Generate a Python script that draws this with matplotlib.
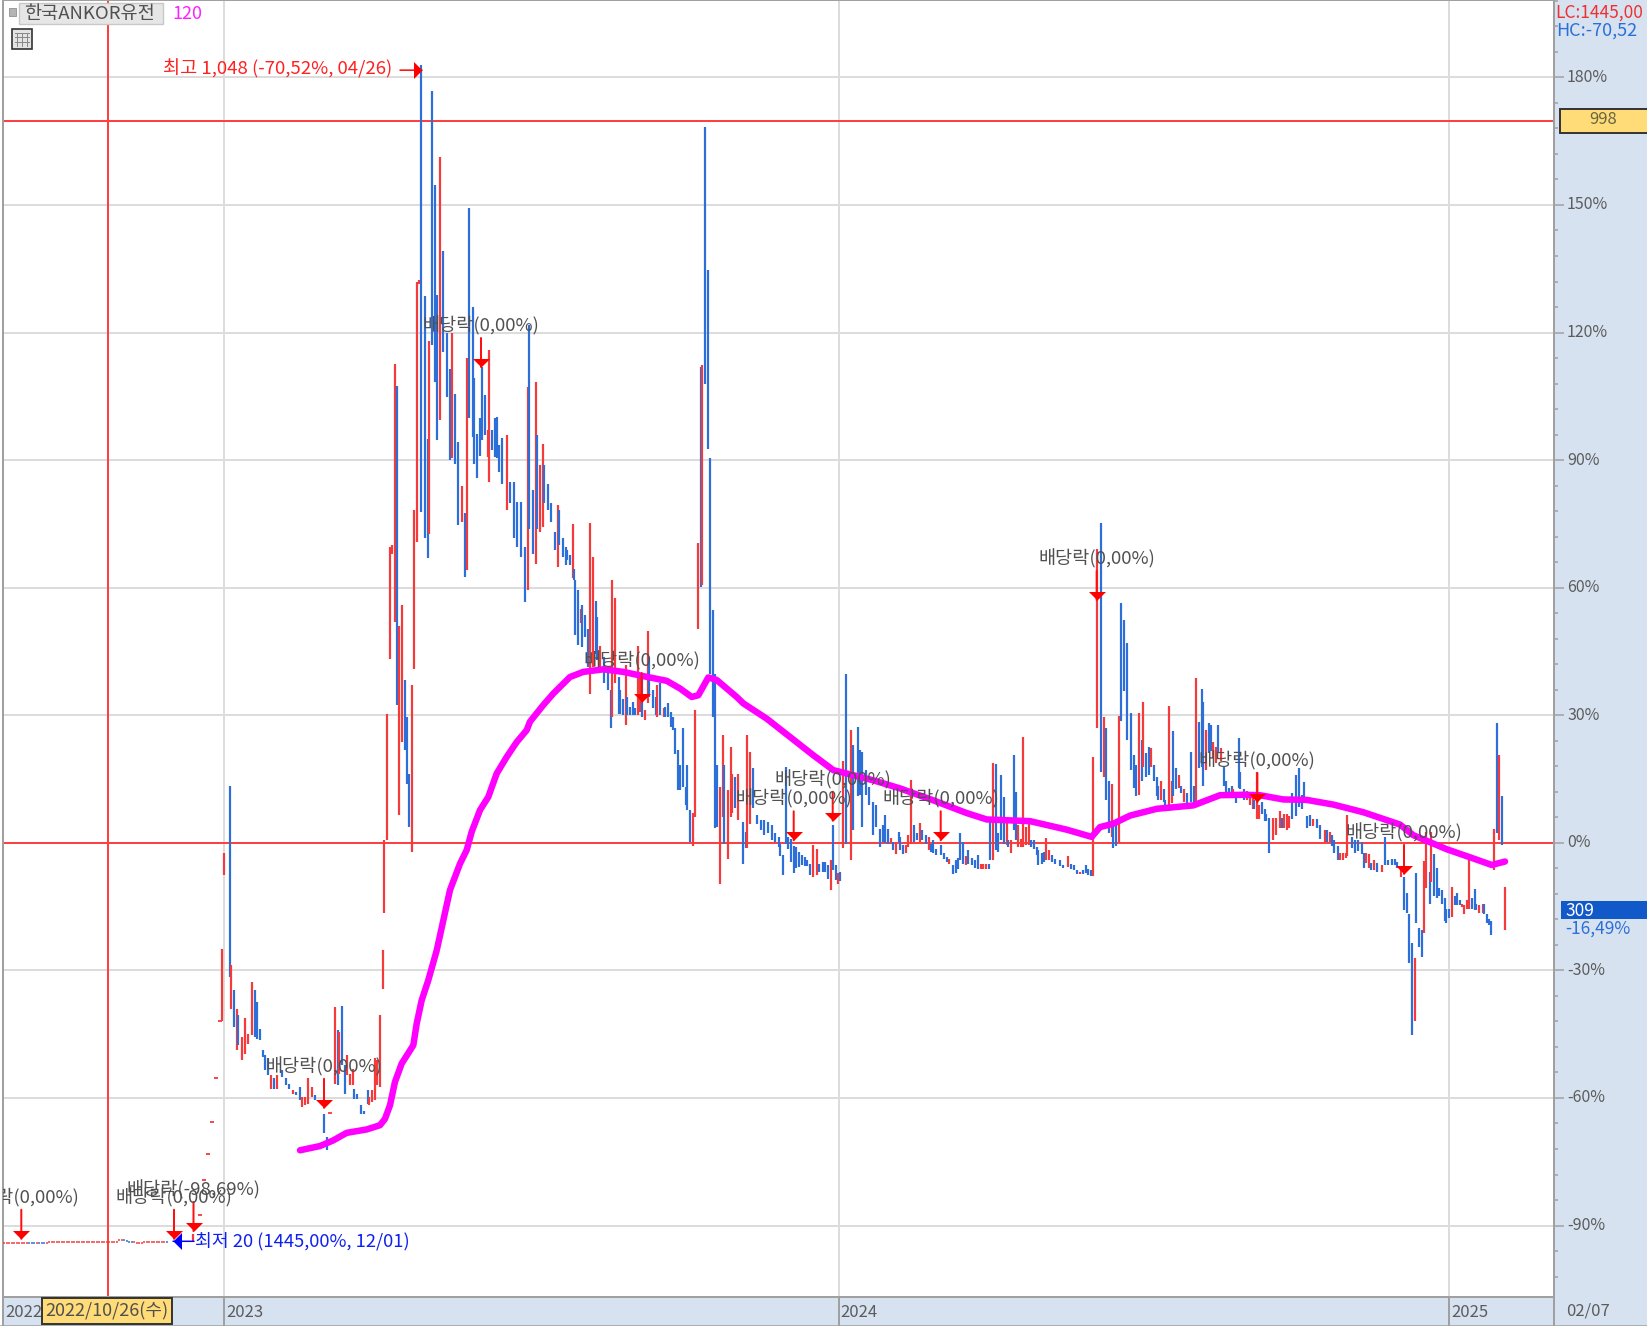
from matplotlib import pyplot as plt
from matplotlib.lines import Line2D
from matplotlib.patches import Rectangle
from matplotlib.ticker import FuncFormatter, MultipleLocator
from matplotlib.transforms import ScaledTranslation

plt.rcParams['font.family'] = ['Noto Sans CJK KR', 'DejaVu Sans']

RED = '#f43a3a'
BLUE = '#2c6fd8'
GRID = '#dcdcdc'
PANEL = '#d6e2f0'
EDGE = '#a0a0a0'
TXT = '#5c5c5c'

# Chart position of the date axis and price change in %
year_pos = [3, 224, 838.7, 1449, 1554]
year_labels = ['2022', '2023', '2024', '2025', '']
last_close = 169.7  # crosshair level, 998
cross_pos = 108

# (position, high %, low %, colour)
bars_early_2023 = [
    (193.3, -92, -93.9, 'r'), (222.3, -24.9, -42, 'r'), (223.7, -2.4, -7.5, 'r'), (230, 13.3, -31.5, 'b'),
    (231.3, -28.8, -39, 'r'), (234, -34.5, -43.3, 'b'), (237, -39, -48.8, 'r'), (238.3, -40.5, -47.6, 'b'),
    (241.7, -45.7, -51.1, 'r'), (245, -41.3, -49.6, 'r'), (248.3, -44.9, -47.2, 'r'), (252.3, -32.7, -45.3, 'r'),
    (255, -34.7, -45.7, 'b'), (256.7, -37.4, -46.1, 'b'), (260, -43.7, -46.3, 'b'), (262.7, -48.8, -50.3, 'b'),
    (265, -50, -53.5, 'b'), (267.7, -50.7, -54.7, 'b'), (270.7, -54.7, -57.8, 'r'), (274, -55.4, -57.8, 'b'),
    (277.3, -54.7, -58, 'r'), (281.7, -53.5, -55.1, 'b'), (285.7, -55.4, -57, 'b'), (289, -56.6, -57.8, 'b'),
    (293.3, -58.2, -59, 'r'), (296, -58.6, -59.4, 'b'), (300, -57.4, -60.5, 'b'), (302, -59.8, -62.1, 'r'),
    (305, -59.8, -61.7, 'r'), (308.3, -55.4, -61.3, 'r'), (311.7, -57.4, -59.8, 'r'), (315, -59.4, -60.5, 'b'),
    (324, -63.7, -68.2, 'b'), (327.3, -69.2, -72.3, 'b'), (334.7, -38.7, -56.6, 'r'), (338, -44.1, -57, 'b'),
    (339.3, -44.5, -54.3, 'r'), (342, -38.4, -52.3, 'b'), (345.3, -52.3, -59, 'b'), (346.7, -50, -54.7, 'r'),
    (350, -54.3, -57, 'r'), (352.7, -53.1, -57, 'r'), (354, -57.8, -60.2, 'b'), (357.3, -59, -60.2, 'b'),
    (360.7, -61.7, -63.7, 'b'), (364, -63, -63.7, 'b'), (368, -58.2, -61.5, 'b'), (368.7, -59.8, -61.7, 'r'),
    (371.7, -58.2, -60.9, 'r'), (375, -50.7, -60.5, 'r'), (376.7, -51.1, -57, 'r'), (379.7, -40.5, -57.4, 'r'),
    (382.7, -25.3, -34.3, 'r'),
]
bars_spike_2023 = [
    (384, 0.6, -16.4, 'r'), (387.3, 30.4, 0.6, 'r'), (390, 69.6, 43.3, 'r'), (391.7, 70, 68, 'r'),
    (394.7, 112.7, 52, 'r'), (397.3, 107.4, 32.4, 'b'), (398.7, 51, 6.5, 'r'), (402, 55.9, 23.7, 'r'),
    (405, 38.3, 21.8, 'b'), (406.7, 29.6, 13.9, 'b'), (409.3, 16.3, 3.8, 'b'), (412.3, 37, -2.1, 'r'),
    (414, 78.2, 40.8, 'r'), (416.7, 131.9, 70.8, 'r'), (419.3, 132.4, 131.5, 'r'), (421, 182.9, 77.8, 'b'),
    (424.7, 128.5, 71.6, 'b'), (427.7, 95, 66.9, 'b'), (429, 118, 72.7, 'r'), (432, 176.8, 117, 'b'),
    (434.7, 154.6, 108.4, 'b'), (436.7, 128.8, 94.7, 'b'), (439.7, 161.3, 99.4, 'r'), (442.7, 139.1, 115.4, 'b'),
    (447, 119.8, 104.9, 'b'), (450, 111.5, 90, 'b'), (451.7, 119.8, 90.4, 'r'), (454.7, 105.6, 89.2, 'b'),
    (457.7, 94.3, 74.7, 'b'), (462.3, 84, 75.5, 'r'), (465, 77.5, 62.6, 'b'), (466.7, 113.9, 64.1, 'r'),
    (469.3, 149.4, 99.8, 'b'), (472.7, 126, 95.5, 'b'), (474, 109.2, 89.2, 'b'), (476.7, 96.2, 85.7, 'b'),
    (480.3, 100, 91, 'b'), (481.7, 111.9, 94.7, 'b'), (485, 105.3, 95.8, 'b'), (487.7, 97, 90.8, 'r'),
    (489, 115.8, 84.9, 'r'), (492, 97, 92.3, 'b'), (495, 99.8, 90.8, 'b'), (496.7, 100.2, 90.4, 'b'),
    (499.3, 93.5, 87.3, 'b'), (502.3, 95.1, 84.5, 'b'), (506.7, 95.9, 78.2, 'r'), (510, 84.9, 79.8, 'b'),
    (513.7, 84.9, 71.6, 'b'), (517.3, 80.2, 69.6, 'b'), (520.7, 80.2, 67.3, 'b'), (525, 69.6, 56.7, 'b'),
    (528.3, 107.2, 59.4, 'r'), (529.3, 121.7, 73.9, 'b'), (532.7, 82.9, 68, 'b'), (535.7, 108.4, 65.5, 'r'),
    (537.3, 95.9, 73.9, 'b'), (540, 88.8, 73.1, 'r'), (542.7, 93.9, 74.3, 'r'), (544.3, 88.8, 79.8, 'b'),
    (547.7, 84.5, 78.2, 'b'), (551, 79.8, 75.5, 'b'), (555, 73.1, 68.8, 'b'), (558.3, 79.4, 64.9, 'r'),
    (559.3, 78.2, 70, 'b'), (562.7, 71.6, 67.3, 'b'), (565.7, 69.6, 65.3, 'b'), (567.3, 68.8, 66.5, 'b'),
    (570, 67.7, 65.3, 'b'), (573, 74.9, 62.2, 'r'), (574, 64.5, 61.8, 'b'), (575, 61.8, 48.8, 'b'),
    (578, 59.4, 46.5, 'b'), (580.7, 55.1, 51.6, 'r'), (582, 55.9, 46.1, 'b'), (585, 53.5, 48.4, 'b'),
    (588.3, 50.4, 41.4, 'b'), (589.7, 75.3, 35.1, 'r'), (592.7, 67.1, 41.4, 'r'), (595.7, 56.8, 44.5, 'b'),
    (597.3, 53.2, 43, 'b'), (600, 46.2, 40.6, 'r'), (604.3, 43.7, 37.5, 'b'), (608, 40.6, 35.9, 'b'),
    (610.7, 35.9, 27.1, 'b'), (612.3, 61.8, 29.6, 'r'), (615, 57.6, 37.5, 'r'), (618.7, 39, 30.4, 'b'),
    (620, 35.9, 30.4, 'b'), (622.7, 33.9, 30, 'b'), (626, 41.8, 27.7, 'r'), (627.3, 34.3, 30, 'b'),
    (630, 32, 30, 'b'), (633.3, 33.2, 30, 'b'), (635, 31.6, 30, 'b'), (637.7, 46.2, 30, 'r'),
    (640, 39.8, 30.8, 'r'), (642.3, 39.8, 29.6, 'b'), (645.3, 31.2, 28.8, 'r'), (648, 49.9, 32.8, 'r'),
    (649.3, 43.7, 34.3, 'b'), (652.7, 35.9, 31.6, 'b'), (655.7, 34.3, 30, 'b'), (657, 37, 29.6, 'r'),
    (660.3, 37.5, 30, 'b'), (663.7, 31.6, 29.6, 'r'), (665, 32, 29.6, 'b'), (667.7, 32.8, 29.6, 'b'),
    (671, 30.8, 27.3, 'b'), (672.7, 29.6, 26.5, 'b'), (675, 26.9, 21, 'b'), (678, 21.8, 12.4, 'b'),
    (679.7, 18.3, 12.4, 'b'), (682.7, 26.9, 13.2, 'b'), (685.7, 13.2, 8.9, 'b'), (687, 18.3, 7.7, 'b'),
    (690.3, 7.8, 0.2, 'b'), (693, 6.9, -0.8, 'r'), (694.7, 31.2, 6.1, 'r'), (697.7, 70.4, 50.4, 'r'),
    (700.7, 111.9, 60.2, 'b'), (702, 112.3, 60.6, 'r'), (705, 168.4, 108, 'b'), (708, 134.8, 92.7, 'b'),
    (709.7, 90.4, 39.8, 'b'), (712.7, 54.7, 29.6, 'b'), (715, 39.8, 3.4, 'b'), (717, 18.3, 3.8, 'b'),
    (720, 13.2, -9.6, 'r'), (723.3, 25.3, 6.1, 'r'), (724.3, 18.3, -0.2, 'b'), (727.7, 12.4, -3.9, 'r'),
    (730.7, 22.6, 6.1, 'r'), (732, 16.3, 6.9, 'r'), (735, 15.5, 8.1, 'b'), (738.3, 16.3, 5.3, 'r'),
    (742.7, 4.9, -4.9, 'b'), (746, 2.6, -1.3, 'b'), (747, 25.3, -1.3, 'r'), (750, 21.4, 4.5, 'r'),
    (752.7, 17.5, 8.1, 'b'), (756.7, 6.5, 4.5, 'b'), (760.7, 5.3, 3, 'b'), (764.3, 5.3, 1.8, 'b'),
    (767.7, 4.9, 2.2, 'b'),
]
bars_2024 = [
    (772.3, 4.1, 0.6, 'b'), (775.3, 2.2, 0.2, 'b'), (779, 1.4, -1, 'b'), (780.3, -0.2, -3, 'b'),
    (783.3, -2.9, -7.6, 'b'), (786.3, 17.9, -0.2, 'b'), (788.3, 1.4, -1.4, 'b'), (791, 1, -4.5, 'b'),
    (794.3, -0.8, -7.2, 'b'), (796, -1, -6, 'b'), (799.3, -2.1, -5.7, 'b'), (802, -2.9, -5.3, 'b'),
    (805.3, -3.3, -5.5, 'b'), (807.3, -4.1, -5.5, 'b'), (810, -4.9, -7.6, 'b'), (813, -0.6, -8, 'r'),
    (817, -1.4, -7.6, 'r'), (819.3, -4.9, -6.9, 'b'), (822.7, -4.5, -6.9, 'b'), (825, -4.5, -6.9, 'b'),
    (827.7, -5.3, -8.4, 'b'), (831, -4.1, -11.2, 'r'), (832.7, 4.1, -6.4, 'b'), (835.7, -5.3, -8.8, 'b'),
    (838.3, -7.2, -9.6, 'r'), (840.3, -6.8, -9, 'b'), (843.3, 19.3, -1.1, 'r'), (845.7, 39.6, -0.2, 'b'),
    (850.7, 26.6, -4, 'r'), (853.3, 22.9, 3.1, 'b'), (858, 27.3, 10.9, 'b'), (860.3, 21.8, 11.2, 'b'),
    (862.3, 21.4, 3.7, 'b'), (865.7, 17.1, 11.2, 'b'), (869, 13.2, 8.8, 'b'), (873.3, 9.6, 1.8, 'b'),
    (876.3, 8.8, 3.7, 'b'), (880.3, 3.3, -1, 'b'), (882.7, 4.1, 0.2, 'b'), (885.3, 6.5, 0, 'b'),
    (888.3, 3.3, -0.2, 'b'), (891, 1.2, -0.2, 'r'), (892.7, 0.2, -1.7, 'b'), (895.7, -0.2, -2.7, 'r'),
    (898.7, 2.6, 0.2, 'b'), (900, 1.4, -1.7, 'b'), (902.7, -0.6, -2.7, 'b'), (905.7, -0.6, -2.5, 'r'),
    (907.7, 1.8, -1, 'r'), (910.7, 14.7, -0.3, 'r'), (913.7, 4.1, 0.2, 'b'), (916.7, 2.2, 0.6, 'b'),
    (920.3, 4.7, 0.2, 'r'), (922.3, 3, 0.6, 'b'), (925.7, 1.8, -0.2, 'b'), (929, 1.4, -1.7, 'r'),
    (931, -0.2, -2.1, 'b'), (933.3, 0.6, -2.5, 'b'), (936.3, -1.4, -2.9, 'b'), (940.7, -0.6, -2.9, 'b'),
    (944, -2.5, -3.7, 'b'), (946.7, -3.3, -4.5, 'b'), (949.3, -3.7, -4.9, 'r'), (952.7, -5.3, -7.4, 'b'),
    (955.7, -4.1, -7.2, 'b'), (958.3, -3.5, -6.1, 'b'), (960, 2.2, -4.1, 'b'), (963, 0.2, -4.9, 'b'),
    (966.3, -3.2, -5.1, 'r'), (968.3, -1.7, -4.9, 'b'), (971.7, -3.5, -5.3, 'b'), (975, -4.1, -5.8, 'b'),
    (978, -2.8, -6.1, 'b'), (981, -4.9, -6.1, 'r'), (983.3, -4.9, -6.1, 'r'), (986, -4.9, -6.1, 'r'),
    (988.7, -4.9, -6.1, 'b'), (990.3, 6.1, -4.1, 'b'), (993.3, 18.8, -4.1, 'r'), (996, 18.5, -1.7, 'b'),
    (998, 2.2, -2.1, 'b'), (1000.7, 16, 0.6, 'b'), (1004, 10.8, -0.2, 'b'), (1006.7, 6.1, -0.6, 'r'),
    (1008.3, 0.6, -1, 'b'), (1011, 0.6, -2.5, 'r'), (1013.7, 20.6, 3, 'b'), (1015.7, 12, 0.6, 'b'),
    (1018.3, 4.1, -1, 'r'), (1021, 1, -1, 'r'), (1023, 24.9, -1, 'r'), (1025.7, 3.7, -0.6, 'r'),
    (1029, 4.5, -0.6, 'r'), (1030.7, 0.6, -1, 'b'), (1034, 0.6, -1.4, 'b'), (1036.7, -1, -2.9, 'b'),
    (1038.3, -1.7, -5.1, 'b'), (1041.7, -2.5, -4.9, 'b'), (1044.3, -2.1, -4.5, 'b'), (1045.7, 1.2, -4.1, 'r'),
    (1048.7, -1.7, -4.1, 'r'), (1051.7, -2.9, -4.5, 'b'), (1055.3, -3.7, -4.9, 'b'), (1060, -4.1, -5.5, 'b'),
    (1063.3, -5.3, -5.8, 'b'), (1068, -3.1, -5.7, 'r'), (1070.7, -4.9, -6.1, 'b'), (1074, -5.3, -6.4, 'b'),
    (1077.3, -6.4, -7.4, 'b'), (1080, -6.8, -7.4, 'r'), (1083.3, -6.4, -7.4, 'b'), (1086, -5.3, -7.2, 'b'),
    (1088.3, -6.1, -7.6, 'b'), (1090.7, -6.4, -7.9, 'b'), (1093.3, 20.2, -7.8, 'r'),
]
bars_late_2024 = [
    (1097, 69, 27, 'r'), (1101, 75.3, 16.7, 'b'), (1104, 29.5, 15.4, 'r'), (1106, 27, 10, 'b'),
    (1108.7, 14.6, 2.2, 'b'), (1112, 13.8, 1.4, 'r'), (1113.3, 4.3, -1.1, 'b'), (1116, 4.3, -0.7, 'b'),
    (1119, 29.9, 0.2, 'r'), (1120.7, 56.3, 28.7, 'b'), (1123.7, 52.4, 35.7, 'b'), (1126.7, 47.1, 24.1, 'b'),
    (1131, 30.5, 17.1, 'b'), (1134.3, 20.6, 13, 'b'), (1136, 18.3, 10.9, 'b'), (1139, 30.5, 11.3, 'r'),
    (1142, 24.1, 14.6, 'b'), (1143.3, 33.2, 17.9, 'r'), (1145.7, 21.2, 15.4, 'b'), (1149.3, 22.6, 16, 'b'),
    (1151, 22.2, 17.9, 'r'), (1153.7, 18.2, 14.6, 'b'), (1156.7, 15.4, 10.9, 'b'), (1158.3, 13.4, 10.1, 'b'),
    (1161, 14.6, 10.1, 'r'), (1163.7, 12.6, 9.7, 'b'), (1165.3, 10.1, 7.6, 'b'), (1168.7, 32.2, 7.6, 'r'),
    (1171.7, 14.6, 9.3, 'r'), (1173, 26.2, 10.9, 'b'), (1176, 17.5, 12.6, 'b'), (1179, 15.9, 13, 'r'),
    (1181, 13.4, 11.7, 'b'), (1184, 12.6, 9.7, 'r'), (1187.3, 11.7, 8.8, 'b'), (1191, 21.4, 9.7, 'b'),
    (1194.3, 13.4, 9.7, 'b'), (1195.7, 38.7, 9.7, 'r'), (1198.7, 28.4, 17.5, 'b'), (1202, 36.1, 17.9, 'b'),
    (1203, 33.2, 13.4, 'b'), (1206, 26.6, 17.1, 'r'), (1209.3, 28.1, 21.2, 'b'), (1210.7, 27.8, 21.6, 'b'),
    (1213.3, 23.7, 20, 'r'), (1216.3, 22.5, 18.8, 'r'), (1218, 27.8, 21.2, 'b'), (1220.7, 22.2, 19.2, 'r'),
    (1224, 17.9, 13.4, 'b'), (1225.7, 14.6, 10.9, 'b'), (1228.7, 13, 10.5, 'b'), (1231.7, 13.4, 10.9, 'b'),
    (1233.3, 12.6, 10.5, 'r'), (1235.7, 11.7, 9.3, 'b'), (1239, 24.7, 13, 'b'), (1240.3, 16.7, 12.6, 'b'),
    (1243.7, 12.6, 10.1, 'b'), (1246.7, 12.1, 10.1, 'r'), (1250, 11.3, 9, 'r'), (1253.3, 10.5, 8, 'r'),
    (1254, 10.1, 8, 'b'), (1257.3, 16.7, 5.5, 'r'), (1258.7, 8.8, 5.6, 'r'), (1261.7, 9.7, 6.8, 'b'),
    (1265, 8, 5.1, 'b'), (1266.3, 6.8, 5.1, 'b'), (1269.3, 5.9, -2.5, 'b'), (1272.7, 5.9, 0.6, 'r'),
    (1276, 5.9, 1.8, 'r'), (1280, 7.6, 3.5, 'r'), (1281.7, 5.9, 3.5, 'b'), (1284.3, 6.8, 3.5, 'r'),
    (1287.3, 6.8, 3.1, 'r'), (1289, 6.4, 3.5, 'r'), (1291.7, 11.7, 5.5, 'b'), (1296, 15.9, 6.4, 'b'),
    (1299.3, 17.7, 8.4, 'b'), (1302.3, 11.3, 8, 'b'), (1304, 14.2, 10.5, 'b'), (1306.7, 6.4, 3.5, 'b'),
    (1310, 6.6, 3.9, 'b'), (1313.3, 5.5, 3.9, 'r'), (1317.3, 5.5, 3.5, 'b'), (1320, 4.3, 1, 'b'),
    (1325, 3.1, 0.2, 'r'), (1327.3, 3.1, 0.2, 'b'), (1330, 2.6, 0.2, 'r'), (1332.3, 1.8, -0.7, 'b'),
    (1334.3, 0.6, -2.3, 'b'), (1337.7, -0.7, -4, 'b'), (1340, -2.3, -4, 'r'), (1343.3, -2.3, -4, 'r'),
    (1345.7, -2.3, -3.6, 'r'), (1347.3, 6.5, -3.1, 'r'), (1351.7, 1.4, -1.1, 'b'), (1355, 0.6, -2.3, 'b'),
    (1358.3, 0.6, -1.9, 'b'), (1362.3, 0.2, -2.7, 'b'), (1363.7, -2.3, -6, 'b'), (1366, -2.3, -4.8, 'r'),
    (1369, -2.7, -6, 'r'), (1371, -4.8, -6.4, 'b'), (1374, -4, -6.4, 'r'), (1377.3, -4.8, -6.9, 'b'),
    (1381.7, -5.2, -6.9, 'r'), (1384.7, 1.4, -5.2, 'b'), (1388.3, -4, -5.2, 'b'), (1391.7, -3.7, -5.2, 'b'),
    (1395, -3.7, -5.2, 'b'), (1397.3, -4.4, -6, 'b'), (1401, -6, -8.1, 'r'), (1404, -8.1, -15.9, 'b'),
    (1407, -11.8, -16.4, 'b'), (1408.7, -16.8, -28.3, 'b'), (1411.7, -23.5, -45.3, 'b'), (1414.7, -27.1, -42, 'r'),
    (1416, -7, -18.8, 'b'), (1419, -20, -24.4, 'b'), (1422, -20.5, -26.9, 'b'), (1423.7, -4.2, -21.3, 'r'),
    (1426.3, 2.6, -10.6, 'r'), (1429.7, -6.9, -14.3, 'b'), (1431, 2.6, -9.3, 'r'), (1434, -2.7, -12.6, 'b'),
    (1437.3, -5.9, -13, 'b'), (1438.7, -10.6, -12.6, 'b'), (1441.7, -11, -14.3, 'b'), (1444.7, -13, -18.4, 'b'),
    (1446, -15.5, -18.8, 'b'), (1449, -15.5, -17.6, 'b'), (1452, -10.4, -17.4, 'r'), (1455, -12.6, -14.7, 'b'),
    (1456.7, -11.8, -14.7, 'b'), (1460, -13.5, -14.7, 'b'), (1461.7, -14.3, -15.2, 'r'), (1464, -14.7, -16.8, 'r'),
    (1467.3, -13.5, -15.5, 'r'), (1468.7, -2.7, -15.5, 'r'), (1471.7, -13, -15.5, 'b'), (1474.7, -10.8, -15.9, 'b'),
    (1476, -14.3, -15.9, 'b'), (1479, -14.7, -16.4, 'r'), (1482.7, -14.3, -16.6, 'r'), (1484, -14.3, -16.8, 'b'),
    (1486.7, -16.8, -18.8, 'b'), (1489.3, -18, -19.4, 'b'), (1491.3, -18.4, -21.7, 'b'), (1494.3, 3.3, -6.4, 'r'),
    (1497, 28.1, 2.2, 'b'), (1498.7, 20.6, 0.7, 'r'), (1501.7, 11.1, -0.4, 'b'), (1504.7, -10.4, -20.5, 'r'),
]

# Flat quotes before the limit-up run, one small dash per session
flat_pos = [4, 6.5, 9, 11.5, 14, 16.5, 19, 21.5, 24, 26.5, 29, 31.5, 34, 36.5, 39, 41.5, 44, 46.5, 49, 51.5,
            54, 56.5, 59, 61.5, 64, 66.5, 69, 71.5, 74, 76.5, 79, 81.5, 84, 86.5, 89, 91.5, 94, 96.5, 99, 101.5,
            104, 106.5, 109, 111.5, 114, 116.5, 119, 121.5, 124, 126.5, 129, 131.5, 134, 136.5, 139, 141.5,
            144, 146.5, 149, 151.5, 154, 156.5, 159, 161.5, 164, 166.5, 169, 171.5]
flat_val = [-94.1, -94.1, -94.1, -94.1, -94.1, -94.1, -94.1, -94.1, -94.1, -94.1, -94.1, -94.1, -94.1, -94.1,
            -94.1, -94, -94.1, -94.1, -93.9, -93.9, -93.9, -93.9, -93.9, -93.9, -93.9, -93.9, -93.9, -93.9,
            -93.9, -93.9, -93.9, -93.9, -93.9, -93.9, -93.9, -93.9, -93.9, -93.9, -93.9, -93.9, -93.9, -93.9,
            -93.9, -93.9, -93.9, -93.9, -93.5, -93.5, -93.5, -93.6, -93.9, -93.9, -93.9, -94, -94.2, -94,
            -93.9, -93.9, -93.9, -93.9, -93.9, -93.9, -93.9, -93.9, -93.9, -93.9, -93.9, -93.9]
flat_col = 'rrrrrrrrrrbbbrbbbrrrrrrrrrrrrrrrrrrrrrrrrrrrrrrrbbbbrrrrrrrrrrrrrb'

limit_pos = [200, 204, 208, 211.7, 215.7, 220, 330]
limit_val = [-87.6, -79.3, -73.2, -65.6, -55.4, -42, -63.5]

# 120 day moving average
ma_pos = [300, 320, 333, 346.7, 366.7, 380, 385, 390, 395, 401.7, 413.3, 416.7, 421.7, 428.3, 436.7,
          450, 460, 466.7, 471.7, 480, 488.3, 496.7, 506.7, 516.7, 526.7, 530, 543.3, 553.3, 570, 583.3,
          603.3, 623.3, 643.3, 666.7, 680, 691.7, 698.3, 708.3, 716.7, 736.7, 743.3, 766.7, 790, 813.3,
          833.3, 853.3, 873.3, 900, 933.3, 966.7, 986.7, 1030, 1066.7, 1091.7, 1100, 1113.3, 1130, 1156.7,
          1193.3, 1220, 1243.3, 1260, 1283.3, 1306.7, 1333.3, 1363.3, 1400, 1413.3, 1446.7, 1470, 1491.7, 1505]
ma_val = [-72.3, -71.3, -70, -68.2, -67.4, -66.4, -64.9, -61.7, -56.2, -51.9, -47.6, -42.5, -37, -32.3, -25.3,
          -11.1, -4.9, -1.7, 2.6, 7.7, 10.8, 16.3, 20.2, 23.7, 26.5, 28.5, 32.4, 35.1, 39, 40.2,
          40.8, 40.2, 39.2, 38.1, 36.3, 34.3, 34.7, 38.9, 38.3, 34.3, 32.8, 29.2, 24.9, 20.6,
          17.1, 15.9, 14.7, 12.8, 10, 7, 5.5, 5.1, 3.1, 1.4, 3.7, 4.5, 6.4, 8,
          8.8, 11.2, 11.3, 11.2, 10.2, 10.1, 9, 7.2, 4.3, 1.8, -1.5, -3.4, -5.2, -4.4]

# Ex-dividend marks
div_pos = [21.3, 174, 193.5, 324, 481, 641.7, 793.7, 832.7, 940.7, 1096.7, 1257.3, 1404]
div_val = [-93.1, -93.1, -91.3, -62.3, 111.9, 33.1, 0.6, 5.2, 0.6, 57.1, 9.6, -7.3]
div_text = ['배당락(0,00%)', '배당락(0,00%)', '배당락(-98,69%)', '배당락(0,00%)', '배당락(0,00%)', '배당락(0,00%)',
            '배당락(0,00%)', '배당락(0,00%)', '배당락(0,00%)', '배당락(0,00%)', '배당락(0,00%)', '배당락(0,00%)']

high_pos, high_val = 422, 181.7
low_pos, low_val = 173, -93.7

W, H = 1647, 1326
fig = plt.figure(figsize=(W / 100, H / 100), dpi=100, facecolor=PANEL)
ax = fig.add_axes([3 / W, 29 / H, 1551 / W, 1297 / H])
ax.set_xlim(3, 1554)
ax.set_ylim(-106.8, 198.2)


def px(n):
    return n * 0.72


# Axes and grid
ax.grid(True, color=GRID, lw=px(2), zorder=0)
ax.set_axisbelow(True)
ax.yaxis.tick_right()
ax.yaxis.set_major_locator(MultipleLocator(30))
ax.yaxis.set_minor_locator(MultipleLocator(6))
ax.yaxis.set_major_formatter(FuncFormatter(lambda v, p: '%d%%' % v))
ax.tick_params(axis='y', which='major', length=px(10), width=px(1.5), color=EDGE, pad=px(3),
               labelsize=11.5, labelcolor=TXT)
ax.tick_params(axis='y', which='minor', length=px(4), width=px(1.5), color=EDGE)
ax.set_xticks(year_pos)
ax.set_xticklabels(year_labels)
ax.tick_params(axis='x', length=px(29), width=px(2), color=EDGE, pad=px(-22), labelsize=12, labelcolor=TXT)
nudge = ScaledTranslation(2 / 100, 0, fig.dpi_scale_trans)
for lbl in ax.get_xticklabels():
    lbl.set_ha('left')
    lbl.set_transform(lbl.get_transform() + nudge)
lift = ScaledTranslation(0, 2 / 100, fig.dpi_scale_trans)
for lbl in ax.get_yticklabels():
    lbl.set_transform(lbl.get_transform() + lift)
for s in ax.spines.values():
    s.set_color(EDGE)
    s.set_linewidth(px(2))

# Reference lines
ax.axhline(0, color='#ff4040', lw=px(2), zorder=1)
ax.axhline(last_close, color='#ff4040', lw=px(2), zorder=1)
ax.axvline(cross_pos, color='#ff4040', lw=px(2), zorder=1)

# Bars
for period in (bars_early_2023, bars_spike_2023, bars_2024, bars_late_2024):
    xs = [b[0] for b in period]
    hi = [b[1] for b in period]
    lo = [b[2] for b in period]
    cols = [RED if b[3] == 'r' else BLUE for b in period]
    ax.vlines(xs, lo, hi, colors=cols, lw=px(2.2), zorder=3)

for x, y, c in zip(flat_pos, flat_val, flat_col):
    ax.plot(x, y, '_', ms=px(2.5), mew=px(1.5), color=RED if c == 'r' else BLUE, zorder=3)
ax.plot(limit_pos, limit_val, '_', ms=px(3.5), mew=px(1.8), color=RED, ls='none', zorder=3)

# Moving average
ax.plot(ma_pos, ma_val, color='#ff00ff', lw=px(6.5), solid_capstyle='round', solid_joinstyle='round', zorder=4)

# Dividend arrows
for x, y, t in zip(div_pos, div_val, div_text):
    ax.annotate('', xy=(x, y), xytext=(0, px(29)), textcoords='offset points',
                arrowprops=dict(arrowstyle='-', color='#ff1010', lw=px(2), shrinkA=0, shrinkB=0), zorder=5)
    ax.plot(x, y, marker=[(-8, 8), (8, 8), (0, 0)], ms=px(17), color='#ff0000', mew=0, zorder=5)
    ax.annotate(t, xy=(x, y), xytext=(0, px(41)), textcoords='offset points', ha='center', va='center',
                fontsize=13.4, color='#505050', clip_on=True, zorder=6)

# High and low marks
ax.annotate('', xy=(high_pos, high_val), xytext=(px(-22), 0), textcoords='offset points',
            arrowprops=dict(arrowstyle='-', color='#ff0000', lw=px(1.5), shrinkA=0, shrinkB=0), zorder=5)
ax.plot(high_pos, high_val, marker=[(-8, -8), (-8, 8), (0, 0)], ms=px(17), color='#ff0000', mew=0, zorder=5)
ax.annotate('최고 1,048 (-70,52%, 04/26)', xy=(high_pos, high_val), xytext=(px(-30), px(1)),
            textcoords='offset points', ha='right', va='center', fontsize=13.4, color='#ff2020', zorder=6)
ax.annotate('', xy=(low_pos, low_val), xytext=(px(21), 0), textcoords='offset points',
            arrowprops=dict(arrowstyle='-', color='#0000ff', lw=px(1.5), shrinkA=0, shrinkB=0), zorder=5)
ax.plot(low_pos, low_val, marker=[(8, -8), (8, 8), (0, 0)], ms=px(17), color='#0000ff', mew=0, zorder=5)
ax.annotate('최저 20 (1445,00%, 12/01)', xy=(low_pos, low_val), xytext=(px(22), 0),
            textcoords='offset points', ha='left', va='center', fontsize=13.2, color='#1020f0', zorder=6)


# Widgets around the chart, placed in figure pixels
def box(x0, y0, x1, y1, fc, ec='none', lw=0.0, z=2):
    fig.add_artist(Rectangle((x0 / W, 1 - y1 / H), (x1 - x0) / W, (y1 - y0) / H, transform=fig.transFigure,
                             facecolor=fc, edgecolor=ec, linewidth=lw, zorder=z))


def label(x, y, s, color=TXT, size=11.5, ha='left'):
    fig.text(x / W, 1 - y / H, s, color=color, fontsize=size, ha=ha, va='center', zorder=4)


box(0, 0, 2, H, 'white')
fig.add_artist(Line2D([0, 1], [0.5 / H, 0.5 / H], color=EDGE, lw=px(1.5), transform=fig.transFigure, zorder=2))
fig.add_artist(Line2D([1554 / W, 1554 / W], [0, 1], color=EDGE, lw=px(2), transform=fig.transFigure, zorder=2))

# Legend
box(9, 8, 16, 16, '#b4b4b4', '#9a9a9a', 0.7)
box(19, 3, 163, 24, '#e6e6e6', '#c8c8c8', 1)
label(24, 14, '한국ANKOR유전', color='#505050', size=13.4)
label(172, 14, '120', color='#ff20ff', size=13)
box(12, 29, 32, 49, '#e4e4e4', '#333333', 1.2)
for gx in (17, 22, 27):
    fig.add_artist(Line2D([gx / W, gx / W], [1 - 46 / H, 1 - 33 / H], color='#888888', lw=0.7,
                          transform=fig.transFigure, zorder=3))
for gy in (33, 37, 42):
    fig.add_artist(Line2D([15 / W, 29 / W], [1 - gy / H, 1 - gy / H], color='#888888', lw=0.7,
                          transform=fig.transFigure, zorder=3))

# Right panel
label(1555, 13, 'LC:1445,00', color='#f03030', size=12.5)
label(1556, 31, 'HC:-70,52', color='#2c6fd8', size=13)
box(1560, 109, 1650, 133, '#ffdc78', '#333333', 1.4)
label(1603, 120, '998', color='#666640', size=12, ha='center')
box(1561, 901, 1650, 919, '#1159c8')
label(1565, 911, '309', color='white', size=12.5)
label(1565, 929, '-16,49%', color='#2c6fd8', size=12.5)

# Date strip
box(42, 1298, 172, 1324, '#ffdc78', '#333333', 1.4)
label(107, 1311, '2022/10/26(수)', color='#505050', size=13, ha='center')
label(1566, 1311, '02/07', size=12)

plt.savefig('out.png', dpi=100, facecolor=fig.get_facecolor())
